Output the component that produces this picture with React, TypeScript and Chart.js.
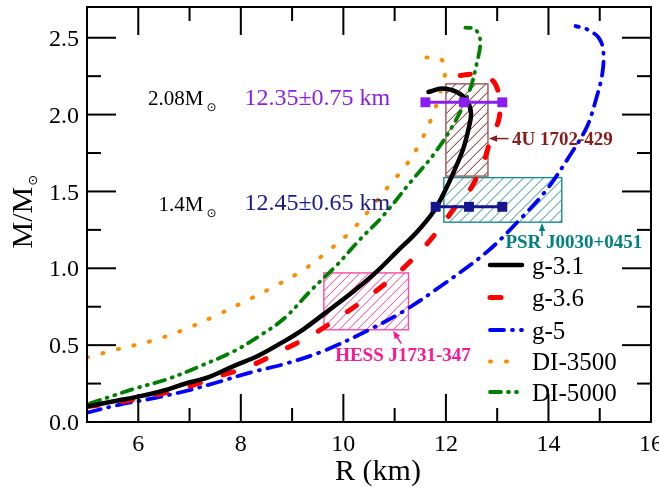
// Mass-radius relations of neutron stars with observational constraints.
// Chart.js scatter-line rendering; frame ticks drawn inward by a small plugin.
import React, { useEffect, useRef } from "react";
import { Chart, registerables } from "chart.js";

Chart.register(...registerables);

// tick marks (inward, on all four sides)
const majorRTicks = [6, 8, 10, 12, 14];
const minorRTicks = [7, 9, 11, 13, 15];
const majorMTicks = [0.5, 1.0, 1.5, 2.0, 2.5];
const minorMTicks = [0.25, 0.75, 1.25, 1.75, 2.25];
const rLabelValues = [6, 8, 10, 12, 14, 16];
const rLabelTexts = ["6", "8", "10", "12", "14", "16"];
const mLabelValues = [0, 0.5, 1.0, 1.5, 2.0, 2.5];
const mLabelTexts = ["0.0", "0.5", "1.0", "1.5", "2.0", "2.5"];

// g-3.1
const g31R = [5.0, 5.6, 6.0, 6.5, 6.91, 7.36, 7.88, 8.34, 8.86, 9.22, 9.61, 10.2, 10.65, 11.04, 11.43, 11.76, 11.99, 12.17, 12.34, 12.45, 12.49, 12.41, 12.21, 11.92, 11.66];
const g31M = [0.10, 0.14, 0.165, 0.205, 0.249, 0.29, 0.367, 0.431, 0.528, 0.603, 0.70, 0.85, 0.978, 1.107, 1.235, 1.37, 1.51, 1.64, 1.78, 1.92, 2.01, 2.09, 2.147, 2.169, 2.147];
// g-3.6
const g36R = [5.0, 5.6, 6.15, 6.86, 7.5, 8.15, 8.77, 9.38, 10.0, 10.55, 11.1, 11.58, 11.95, 12.15, 12.45, 12.73, 12.87, 13.03, 13.05, 12.96, 12.77, 12.57, 12.28];
const g36M = [0.10, 0.128, 0.163, 0.217, 0.29, 0.36, 0.46, 0.565, 0.70, 0.83, 0.98, 1.14, 1.29, 1.385, 1.50, 1.686, 1.836, 1.965, 2.09, 2.2, 2.254, 2.265, 2.254];
// g-5
const g5R = [5.0, 5.6, 6.26, 6.91, 7.56, 8.21, 8.86, 9.62, 10.52, 11.17, 11.82, 12.8, 13.45, 13.97, 14.43, 14.75, 14.92, 15.05, 15.07, 14.98, 14.75, 14.53];
const g5M = [0.06, 0.11, 0.152, 0.2, 0.26, 0.324, 0.378, 0.463, 0.603, 0.72, 0.865, 1.107, 1.32, 1.514, 1.74, 1.92, 2.09, 2.265, 2.415, 2.5, 2.555, 2.576];
// DI-3500
const di3500R = [5.0, 5.6, 6.26, 6.91, 7.56, 8.21, 8.7, 9.22, 9.68, 10.13, 10.55, 10.91, 11.2, 11.47, 11.73, 11.92, 11.99, 11.86, 11.56];
const di3500M = [0.42, 0.474, 0.528, 0.603, 0.70, 0.806, 0.89, 0.989, 1.107, 1.235, 1.396, 1.546, 1.66, 1.80, 1.986, 2.18, 2.31, 2.37, 2.37];
// DI-5000
const di5000R = [5.05, 5.5, 5.93, 6.58, 7.23, 7.88, 8.41, 8.86, 9.35, 9.87, 10.33, 10.78, 11.3, 11.76, 12.12, 12.44, 12.6, 12.67, 12.57, 12.38];
const di5000M = [0.12, 0.17, 0.217, 0.28, 0.367, 0.463, 0.57, 0.678, 0.85, 1.02, 1.19, 1.343, 1.557, 1.74, 1.92, 2.136, 2.33, 2.48, 2.555, 2.566];

const seriesNames = ["g-3.1", "g-3.6", "g-5", "DI-3500", "DI-5000"];

// radius constraints at 2.08 and 1.4 solar masses
const err208R = [11.6, 12.35, 13.1];
const err208M = [2.08, 2.08, 2.08];
const err14R = [11.8, 12.45, 13.1];
const err14M = [1.4, 1.4, 1.4];

// observational boxes [Rmin, Rmax, Mmin, Mmax]
const box4U = [12.0, 12.82, 1.6, 2.2];
const boxPSR = [11.96, 14.26, 1.3, 1.59];
const boxHESS = [9.62, 11.27, 0.6, 0.97];
const boxNames = ["4U 1702-429", "PSR J0030+0451", "HESS J1731-347"];

const SERIF = '"Liberation Serif", "Times New Roman", "DejaVu Serif", serif';
const SYM = '"DejaVu Sans", sans-serif';

const pairs = (a: number[], b: number[]) => a.map((v, i) => ({ x: v, y: b[i] }));

const styles = [
  { color: "#000000", width: 4.5, dash: [] as number[] },
  { color: "#FF0000", width: 5, dash: [11, 24] },
  { color: "#0000FF", width: 3.8, dash: [14, 8, 1, 8] },
  { color: "#FF8C00", width: 4, dash: [1, 15] },
  { color: "#008000", width: 3.8, dash: [11, 7, 1, 7, 1, 7] },
];

function drawArrow(ctx: CanvasRenderingContext2D, x1: number, y1: number, x2: number, y2: number, color: string) {
  const ang = Math.atan2(y2 - y1, x2 - x1);
  const hl = 8, hw = 3.2;
  const c = Math.cos(ang), s = Math.sin(ang);
  ctx.save();
  ctx.strokeStyle = color;
  ctx.fillStyle = color;
  ctx.lineWidth = 1.5;
  ctx.setLineDash([]);
  ctx.beginPath();
  ctx.moveTo(x1, y1);
  ctx.lineTo(x2 - c * hl * 0.8, y2 - s * hl * 0.8);
  ctx.stroke();
  ctx.beginPath();
  ctx.moveTo(x2, y2);
  ctx.lineTo(x2 - c * hl - s * hw, y2 - s * hl + c * hw);
  ctx.lineTo(x2 - c * hl + s * hw, y2 - s * hl - c * hw);
  ctx.closePath();
  ctx.fill();
  ctx.restore();
}

function drawHatchedBox(ctx: CanvasRenderingContext2D, xs: any, ys: any, b: number[], border: string, hatch: string, gap: number) {
  const x0 = xs.getPixelForValue(b[0]);
  const x1 = xs.getPixelForValue(b[1]);
  const y0 = ys.getPixelForValue(b[3]);
  const y1 = ys.getPixelForValue(b[2]);
  const h = y1 - y0;
  ctx.save();
  ctx.beginPath();
  ctx.rect(x0, y0, x1 - x0, h);
  ctx.clip();
  ctx.strokeStyle = hatch;
  ctx.lineWidth = 1;
  ctx.setLineDash([]);
  ctx.beginPath();
  for (let p = x0 - h; p < x1 + 1; p += gap) {
    ctx.moveTo(p, y1);
    ctx.lineTo(p + h, y0);
  }
  ctx.stroke();
  ctx.restore();
  ctx.save();
  ctx.strokeStyle = border;
  ctx.lineWidth = 1.4;
  ctx.setLineDash([]);
  ctx.strokeRect(x0, y0, x1 - x0, h);
  ctx.restore();
}

const frameTicksPlugin = {
  id: "frameTicks",
  afterDraw(chart: any) {
    const ctx: CanvasRenderingContext2D = chart.ctx;
    const xs = chart.scales.x;
    const ys = chart.scales.y;
    const area = chart.chartArea;
    ctx.save();
    ctx.setLineDash([]);
    ctx.fillStyle = "#000000";
    const vTick = (v: number, len: number) => {
      const px = xs.getPixelForValue(v);
      ctx.fillRect(px - 1, area.bottom - len, 2, len);
      ctx.fillRect(px - 1, area.top, 2, len);
    };
    const hTick = (v: number, len: number) => {
      const py = ys.getPixelForValue(v);
      ctx.fillRect(area.left, py - 1, len, 2);
      ctx.fillRect(area.right - len, py - 1, len, 2);
    };
    majorRTicks.forEach((v) => vTick(v, 28));
    minorRTicks.forEach((v) => vTick(v, 14));
    majorMTicks.forEach((v) => hTick(v, 29));
    minorMTicks.forEach((v) => hTick(v, 14));
    ctx.strokeStyle = "#000000";
    ctx.lineWidth = 2;
    ctx.strokeRect(area.left, area.top, area.right - area.left, area.bottom - area.top);
    ctx.restore();
  },
};

const decorPlugin = {
  id: "mrDecor",
  beforeDatasetsDraw(chart: any) {
    const ctx: CanvasRenderingContext2D = chart.ctx;
    const xs = chart.scales.x, ys = chart.scales.y;
    drawHatchedBox(ctx, xs, ys, boxHESS, "#FF47A3", "#FF3C9E", 9);
    drawHatchedBox(ctx, xs, ys, box4U, "#A05550", "#7A1414", 10);
    drawHatchedBox(ctx, xs, ys, boxPSR, "#1A8A8A", "#238F8F", 10);
  },
  afterDraw(chart: any) {
    const ctx: CanvasRenderingContext2D = chart.ctx;
    const xs = chart.scales.x, ys = chart.scales.y;
    const area = chart.chartArea;
    const X = (v: number) => xs.getPixelForValue(v);
    const Y = (v: number) => ys.getPixelForValue(v);

    ctx.save();
    ctx.fillStyle = "#000000";
    ctx.font = `24px ${SERIF}`;
    ctx.textAlign = "center";
    ctx.textBaseline = "alphabetic";
    rLabelValues.forEach((v, i) => ctx.fillText(rLabelTexts[i], X(v), area.bottom + 28.5));
    ctx.textAlign = "right";
    mLabelValues.forEach((v, i) => ctx.fillText(mLabelTexts[i], area.left - 8, Y(v) + 8.2));

    ctx.font = `30px ${SERIF}`;
    ctx.textAlign = "center";
    ctx.fillText("R (km)", 378, 480);

    ctx.save();
    ctx.translate(32, 248.5);
    ctx.rotate(-Math.PI / 2);
    ctx.textAlign = "left";
    ctx.font = `30px ${SERIF}`;
    ctx.fillText("M/M", 0, 0);
    const tw = ctx.measureText("M/M").width;
    ctx.font = `13px ${SYM}`;
    ctx.textBaseline = "middle";
    ctx.fillText("\u2299", tw + 1, 2);
    ctx.restore();

    const massLabel = (txt: string, r: number, m: number) => {
      ctx.font = `21px ${SERIF}`;
      ctx.textAlign = "right";
      ctx.textBaseline = "alphabetic";
      ctx.fillStyle = "#000";
      ctx.fillText(txt, X(r), Y(m));
      ctx.font = `12px ${SYM}`;
      ctx.textAlign = "left";
      ctx.textBaseline = "middle";
      ctx.fillText("\u2299", X(r) + 3, Y(m) + 3);
      ctx.textBaseline = "alphabetic";
    };
    massLabel("2.08M", 7.27, 2.062);
    massLabel("1.4M", 7.27, 1.375);

    ctx.font = `24px ${SERIF}`;
    ctx.textAlign = "left";
    ctx.fillStyle = "#8A1EF0";
    ctx.fillText("12.35\u00B10.75 km", X(8.07), Y(2.062));
    ctx.fillStyle = "#1A1A8C";
    ctx.fillText("12.45\u00B10.65 km", X(8.07), Y(1.378));

    ctx.font = `bold 19px ${SERIF}`;
    ctx.fillStyle = "#8B1A1A";
    ctx.fillText(boxNames[0], X(13.29), Y(1.804));
    drawArrow(ctx, X(13.22), Y(1.844), X(12.84), Y(1.844), "#8B1A1A");
    ctx.font = `bold 19px ${SERIF}`;
    ctx.fillStyle = "#008080";
    ctx.fillText(boxNames[1], X(13.16), Y(1.133));
    drawArrow(ctx, X(13.875), Y(1.21), X(13.875), Y(1.295), "#008080");
    ctx.font = `bold 19px ${SERIF}`;
    ctx.fillStyle = "#FF1493";
    ctx.fillText(boxNames[2], X(9.84), Y(0.399));
    drawArrow(ctx, X(11.13), Y(0.51), X(10.97), Y(0.593), "#FF1493");

    const legendY = [265, 297.5, 330, 361.5, 392];
    seriesNames.forEach((name, i) => {
      const st = styles[i];
      ctx.save();
      ctx.strokeStyle = st.color;
      ctx.lineWidth = st.width;
      ctx.lineCap = "round";
      ctx.setLineDash(st.dash);
      ctx.beginPath();
      ctx.moveTo(490, legendY[i]);
      ctx.lineTo(522, legendY[i]);
      ctx.stroke();
      ctx.restore();
      ctx.fillStyle = "#000";
      ctx.font = `25px ${SERIF}`;
      ctx.textAlign = "left";
      ctx.textBaseline = "alphabetic";
      ctx.fillText(name, 532, legendY[i] + 8.5);
    });
    ctx.restore();
  },
};

export default function App() {
  const canvasRef = useRef<HTMLCanvasElement>(null);
  useEffect(() => {
    const el = canvasRef.current;
    if (!el) return;
    const curveData = [
      pairs(g31R, g31M),
      pairs(g36R, g36M),
      pairs(g5R, g5M),
      pairs(di3500R, di3500M),
      pairs(di5000R, di5000M),
    ];
    const chart = new Chart(el, {
      type: "scatter",
      data: {
        datasets: [
          {
            label: "R(2.08)",
            data: pairs(err208R, err208M),
            showLine: true,
            borderColor: "#8A1EF0",
            backgroundColor: "#8A1EF0",
            borderWidth: 3,
            pointStyle: "rect",
            pointRadius: 7,
            pointBorderWidth: 0,
          },
          {
            label: "R(1.4)",
            data: pairs(err14R, err14M),
            showLine: true,
            borderColor: "#14148C",
            backgroundColor: "#14148C",
            borderWidth: 3,
            pointStyle: "rect",
            pointRadius: 7,
            pointBorderWidth: 0,
          },
          ...curveData.map((d, i) => ({
            label: seriesNames[i],
            data: d,
            showLine: true,
            borderColor: styles[i].color,
            backgroundColor: styles[i].color,
            borderWidth: styles[i].width,
            borderDash: styles[i].dash,
            borderCapStyle: "round" as const,
            borderJoinStyle: "round" as const,
            pointRadius: 0,
            tension: 0.35,
          })),
        ],
      },
      options: {
        responsive: false,
        maintainAspectRatio: false,
        animation: false,
        layout: { padding: { top: 1, right: 8, left: 0, bottom: 0 } },
        plugins: { legend: { display: false }, tooltip: { enabled: false } },
        scales: {
          x: {
            type: "linear",
            min: 5,
            max: 16,
            grid: { display: false },
            border: { display: false },
            ticks: { display: false },
            afterFit: (s: any) => { s.height = 70; },
          },
          y: {
            type: "linear",
            min: 0,
            max: 2.7,
            grid: { display: false },
            border: { display: false },
            ticks: { display: false },
            afterFit: (s: any) => { s.width = 87; },
          },
        },
      },
      plugins: [decorPlugin, frameTicksPlugin],
    });
    return () => chart.destroy();
  }, []);
  return (
    <div style={{ position: "absolute", left: 0, top: 0, width: 659, height: 492, background: "#ffffff" }}>
      <canvas ref={canvasRef} width={659} height={492} style={{ display: "block" }} />
    </div>
  );
}
